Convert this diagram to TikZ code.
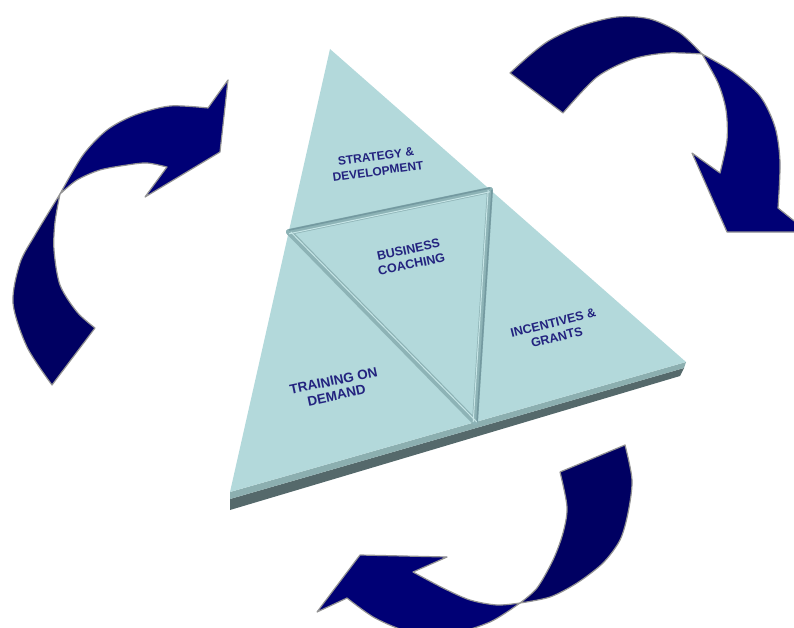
\documentclass[tikz,border=0pt]{standalone}
\usepackage{fontspec}
\setmainfont{Liberation Sans}
\usepackage{tikz}
\definecolor{facecol}{HTML}{B3D9DB}
\definecolor{bandcol}{HTML}{8CAFB0}
\definecolor{sidecol}{HTML}{55696B}
\definecolor{groovecol}{HTML}{8DB3B6}
\definecolor{shadecol}{HTML}{7399A0}
\definecolor{ridgecol}{HTML}{C6E5E6}
\definecolor{navyA}{HTML}{000062}
\definecolor{navyB}{HTML}{000075}
\definecolor{txtcol}{HTML}{23237F}

\begin{document}
\begin{tikzpicture}[x=1pt,y=-1pt,line join=round,
	piece/.style={fill=#1,draw=gray!85,line width=1.2pt},
	groove/.style={groovecol,line width=6pt,line cap=round},
	shade/.style={shadecol,line width=1.5pt},
	ridge/.style={ridgecol,line width=1pt},
	lbl/.style={font=\bfseries\fontsize{#1}{15}\selectfont,text=txtcol,align=center,inner sep=0pt},
	]
	\useasboundingbox (0,0) rectangle (794,628);
	
	% the triangle block
	\fill[sidecol] (230,499) -- (684,368) -- (680,376) -- (230,510) -- cycle;
	\fill[bandcol] (230,492) -- (686,362) -- (684,368) -- (230,499) -- cycle;
	\fill[facecol] (330,49) -- (230,492) -- (686,362) -- cycle;
	
	% the grooves
	\coordinate (gl) at (289,232);
	\coordinate (gr) at (490,190);
	\coordinate (gv) at (475,422);
	\draw[groove] (gl) -- (gr);
	\draw[groove] (gl) -- (gv);
	\draw[groove] (gr) -- (gv);
	\draw[shade] ([yshift=2pt]gl) -- ([yshift=2pt]gr);
	\draw[shade] ([xshift=2pt]gr) -- ([xshift=2pt]gv);
	\draw[ridge] ([yshift=-1.8pt]gl) -- ([yshift=-1.8pt]gr);
	\draw[ridge] ([xshift=1.8pt]gl) -- ([xshift=1.8pt]gv);
	\draw[ridge] ([xshift=-1.8pt]gr) -- ([xshift=-1.8pt]gv);
	
	% create the nodes
	\node (strat) [lbl=12,rotate=8] at (377,164) {STRATEGY \&\\DEVELOPMENT};
	\node (coach) [lbl=12.5,rotate=12] at (410,257) {BUSINESS\\COACHING};
	\node (grants) [lbl=12.5,rotate=14] at (555,330) {INCENTIVES \&\\GRANTS};
	\node (train) [lbl=13.5,rotate=12] at (335,388) {TRAINING ON\\DEMAND};
	
	% left arrow
	\filldraw[piece=navyA] plot[smooth] coordinates {(52,385) (27,347) (13,303) (20,263) (35,235) (60,194)}
		-- plot[smooth] coordinates {(60,194) (55,222) (54,250) (60,285) (77,312) (95,328)} -- cycle;
	\filldraw[piece=navyB] plot[smooth] coordinates {(60,194) (83,155) (107,130) (135,115) (170,106) (208,108)}
		-- (228,80) -- (220,152) -- (145,197) -- (167,167)
		-- plot[smooth] coordinates {(167,167) (147,163) (127,165) (100,170) (77,180) (60,194)} -- cycle;
	
	% top right arrow
	\filldraw[piece=navyA] plot[smooth] coordinates {(510,73) (530,55) (550,40) (580,26) (617,17) (650,19) (680,33) (702,54)}
		-- plot[smooth] coordinates {(702,54) (667,53) (633,59) (597,77) (563,113)} -- cycle;
	\filldraw[piece=navyB] plot[smooth] coordinates {(702,54) (733,72) (760,96) (775,127) (780,162) (778,208)}
		-- (808,232) -- (727,232) -- (692,153) -- (720,173)
		-- plot[smooth] coordinates {(720,173) (727,140) (726,110) (718,83) (702,54)} -- cycle;
	
	% bottom arrow
	\filldraw[piece=navyA] plot[smooth] coordinates {(625,445) (632,480) (628,513) (620,540) (603,563) (577,583) (550,597) (520,603)}
		-- plot[smooth] coordinates {(520,603) (537,588) (553,560) (563,533) (567,507) (560,472)} -- cycle;
	\filldraw[piece=navyB] plot[smooth] coordinates {(520,603) (497,605) (470,600) (443,588) (413,572)}
		-- (447,557) -- (360,555) -- (317,612) -- (347,598)
		-- plot[smooth] coordinates {(347,598) (375,618) (410,632) (450,634) (490,622) (520,603)} -- cycle;
	
\end{tikzpicture}
\end{document}
